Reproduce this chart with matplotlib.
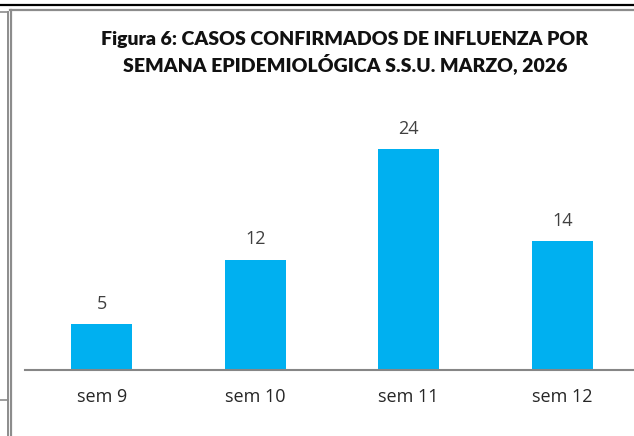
import matplotlib.pyplot as plt
from matplotlib.lines import Line2D

semanas = ["sem 9", "sem 10", "sem 11", "sem 12"]
casos = [5, 12, 24, 14]

W, H = 634, 436
fig = plt.figure(figsize=(W / 100, H / 100), dpi=100)
fig.patch.set_facecolor("white")


def px_line(x0, y0, x1, y1, color, lw):
    # coordenadas en pixeles desde arriba a la izquierda
    fig.add_artist(Line2D([x0 / W, x1 / W], [1 - y0 / H, 1 - y1 / H],
                          color=color, lw=lw, transform=fig.transFigure))


# marcos de la hoja
px_line(0, 5.5, W, 5.5, "black", 1.6)
px_line(10, 10.5, W, 10.5, "#8c8c8c", 1.6)
px_line(7.5, 12, 7.5, H, "#8c8c8c", 1.4)
px_line(11, 10, 11, H, "#8c8c8c", 1.6)
px_line(0, 12.5, 7.5, 12.5, "#8c8c8c", 1.2)
px_line(0, 400, 7.5, 400, "#8c8c8c", 1.2)

ax = fig.add_axes([25 / W, 1 - 370 / H, 614 / W, 276 / H])
x = range(len(semanas))
bars = ax.bar(x, casos, width=0.4, color="#00B0F0", zorder=2)
ax.set_xlim(-0.5, 3.5)
ax.set_ylim(0, 30)
ax.set_facecolor("none")
for side in ["top", "right", "left"]:
    ax.spines[side].set_visible(False)
ax.spines["bottom"].set_color("#868686")
ax.spines["bottom"].set_linewidth(1.5)
ax.set_yticks([])
ax.set_xticks(list(x))
ax.set_xticklabels(semanas, fontsize=13, color="#262626", family="Open Sans")
ax.tick_params(axis="x", length=0, pad=13)

for b, v in zip(bars, casos):
    ax.annotate(str(v), (b.get_x() + b.get_width() / 2, v), xytext=(0, 8),
                textcoords="offset points", ha="center", va="bottom",
                fontsize=13, color="#404040", family="Open Sans")

titulo = ["Figura 6: CASOS CONFIRMADOS DE INFLUENZA POR",
          "SEMANA EPIDEMIOLÓGICA S.S.U. MARZO, 2026"]
for linea, y in zip(titulo, [40, 64]):
    fig.text(345 / W, 1 - y / H, linea, ha="center", va="center", fontsize=14,
             fontweight="heavy", family="Lato", color="#111111")

fig.savefig("out.png", dpi=100)
